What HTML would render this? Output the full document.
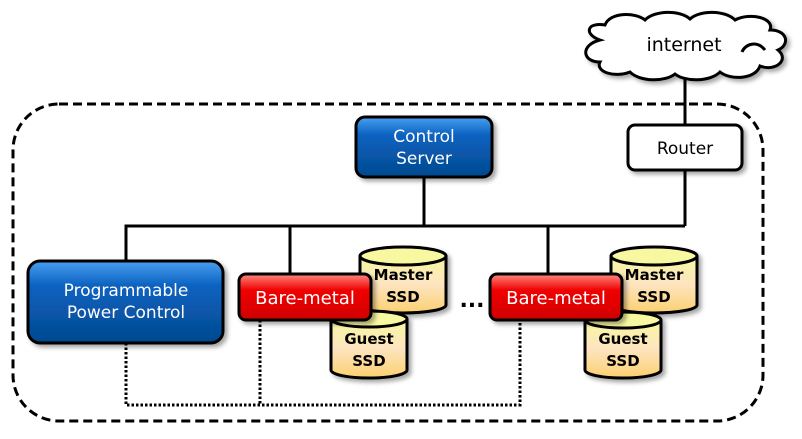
<!DOCTYPE html>
<html><head><meta charset="utf-8"><style>
html,body{margin:0;padding:0;background:#fff;}
svg{display:block;}
text{font-family:"DejaVu Sans","Liberation Sans",sans-serif;}
</style></head><body>
<svg width="802" height="439" viewBox="0 0 802 439" xmlns="http://www.w3.org/2000/svg">
<defs>
<linearGradient id="blue" x1="0" y1="0" x2="0" y2="1">
<stop offset="0" stop-color="#4a9ff0"/><stop offset="0.3" stop-color="#0a62c0"/><stop offset="1" stop-color="#04498f"/></linearGradient>
<linearGradient id="red" x1="0" y1="0" x2="0" y2="1">
<stop offset="0" stop-color="#ff8a80"/><stop offset="0.35" stop-color="#f00000"/><stop offset="1" stop-color="#d00000"/></linearGradient>
<linearGradient id="cyl" x1="0" y1="0" x2="0" y2="1">
<stop offset="0" stop-color="#f8f8a0"/><stop offset="0.5" stop-color="#fde4c0"/><stop offset="1" stop-color="#fbd070"/></linearGradient>
<filter id="sh" x="-10%" y="-10%" width="130%" height="140%"><feDropShadow dx="3" dy="3" stdDeviation="2" flood-color="#000" flood-opacity="0.35"/></filter>
</defs>
<rect x="13" y="104" width="750" height="317" rx="46" fill="none" stroke="#000" stroke-width="3" stroke-dasharray="9,5"/>
<g stroke="#000" stroke-width="3" fill="none">
<line x1="685" y1="70" x2="685" y2="226"/>
<polyline points="126,262 126,226 685,226"/>
<line x1="424" y1="178" x2="424" y2="226"/>
<line x1="290" y1="226" x2="290" y2="275"/>
<line x1="548" y1="226" x2="548" y2="275"/>
</g>
<g stroke="#000" stroke-width="3" fill="none" stroke-dasharray="2.5,2">
<polyline points="126,343 126,405 520,405 520,320"/>
<line x1="260" y1="320" x2="260" y2="405"/>
</g>
<path filter="url(#sh)" d="M600,40 C585,35 585,22 605,25 C610,12 635,12 645,20 C655,10 680,10 690,19 C700,10 725,10 735,20 C750,12 775,18 770,30 C788,30 790,45 778,50 C790,60 775,72 760,66 C755,80 730,80 720,72 C710,82 685,82 675,74 C665,82 640,82 630,72 C615,78 595,72 600,62 C582,62 580,45 600,40 Z" fill="#fff" stroke="#000" stroke-width="3"/>
<path d="M765,50 C757,40 745,44 742,52" fill="none" stroke="#000" stroke-width="3"/>
<text x="684" y="51" font-size="19" text-anchor="middle">internet</text>
<rect x="628" y="125" width="114" height="45" rx="7" fill="#fff" stroke="#000" stroke-width="3" filter="url(#sh)"/>
<text x="685" y="154" font-size="17" text-anchor="middle">Router</text>
<rect x="356" y="117" width="136" height="60" rx="9" fill="url(#blue)" stroke="#000" stroke-width="3" filter="url(#sh)"/>
<text x="424" y="142" font-size="17" fill="#fff" text-anchor="middle">Control</text>
<text x="424" y="164" font-size="17" fill="#fff" text-anchor="middle">Server</text>
<rect x="28" y="261" width="195" height="82" rx="12" fill="url(#blue)" stroke="#000" stroke-width="3" filter="url(#sh)"/>
<text x="126" y="296" font-size="17" fill="#fff" text-anchor="middle">Programmable</text>
<text x="126" y="318" font-size="17" fill="#fff" text-anchor="middle">Power Control</text>
<g filter="url(#sh)">
<path d="M360,256 L360,305 A43,8 0 0 0 446,305 L446,256" fill="url(#cyl)" stroke="#000" stroke-width="3"/>
<ellipse cx="403" cy="256" rx="43" ry="9" fill="#f8f8a0" stroke="#000" stroke-width="3"/>
</g>
<text x="403" y="280" font-size="15" font-weight="bold" text-anchor="middle">Master</text>
<text x="403" y="302" font-size="15" font-weight="bold" text-anchor="middle">SSD</text>
<g filter="url(#sh)">
<path d="M331,319 L331,370 A38,8 0 0 0 407,370 L407,319" fill="url(#cyl)" stroke="#000" stroke-width="3"/>
<ellipse cx="369" cy="319" rx="38" ry="8" fill="#f8f8a0" stroke="#000" stroke-width="3"/>
</g>
<text x="369" y="344" font-size="15" font-weight="bold" text-anchor="middle">Guest</text>
<text x="369" y="366" font-size="15" font-weight="bold" text-anchor="middle">SSD</text>
<rect x="239" y="274" width="132" height="46" rx="7" fill="url(#red)" stroke="#000" stroke-width="3" filter="url(#sh)"/>
<text x="305" y="304" font-size="18" fill="#fff" text-anchor="middle">Bare-metal</text>
<text x="472" y="307" font-size="22" font-weight="bold" text-anchor="middle">...</text>
<g filter="url(#sh)">
<path d="M611,256 L611,305 A43,8 0 0 0 697,305 L697,256" fill="url(#cyl)" stroke="#000" stroke-width="3"/>
<ellipse cx="654" cy="256" rx="43" ry="9" fill="#f8f8a0" stroke="#000" stroke-width="3"/>
</g>
<text x="654" y="280" font-size="15" font-weight="bold" text-anchor="middle">Master</text>
<text x="654" y="302" font-size="15" font-weight="bold" text-anchor="middle">SSD</text>
<g filter="url(#sh)">
<path d="M585,320 L585,370 A38,8 0 0 0 661,370 L661,320" fill="url(#cyl)" stroke="#000" stroke-width="3"/>
<ellipse cx="623" cy="320" rx="38" ry="8" fill="#f8f8a0" stroke="#000" stroke-width="3"/>
</g>
<text x="623" y="344" font-size="15" font-weight="bold" text-anchor="middle">Guest</text>
<text x="623" y="366" font-size="15" font-weight="bold" text-anchor="middle">SSD</text>
<rect x="490" y="274" width="132" height="46" rx="7" fill="url(#red)" stroke="#000" stroke-width="3" filter="url(#sh)"/>
<text x="556" y="304" font-size="18" fill="#fff" text-anchor="middle">Bare-metal</text>
</svg>
</body></html>
